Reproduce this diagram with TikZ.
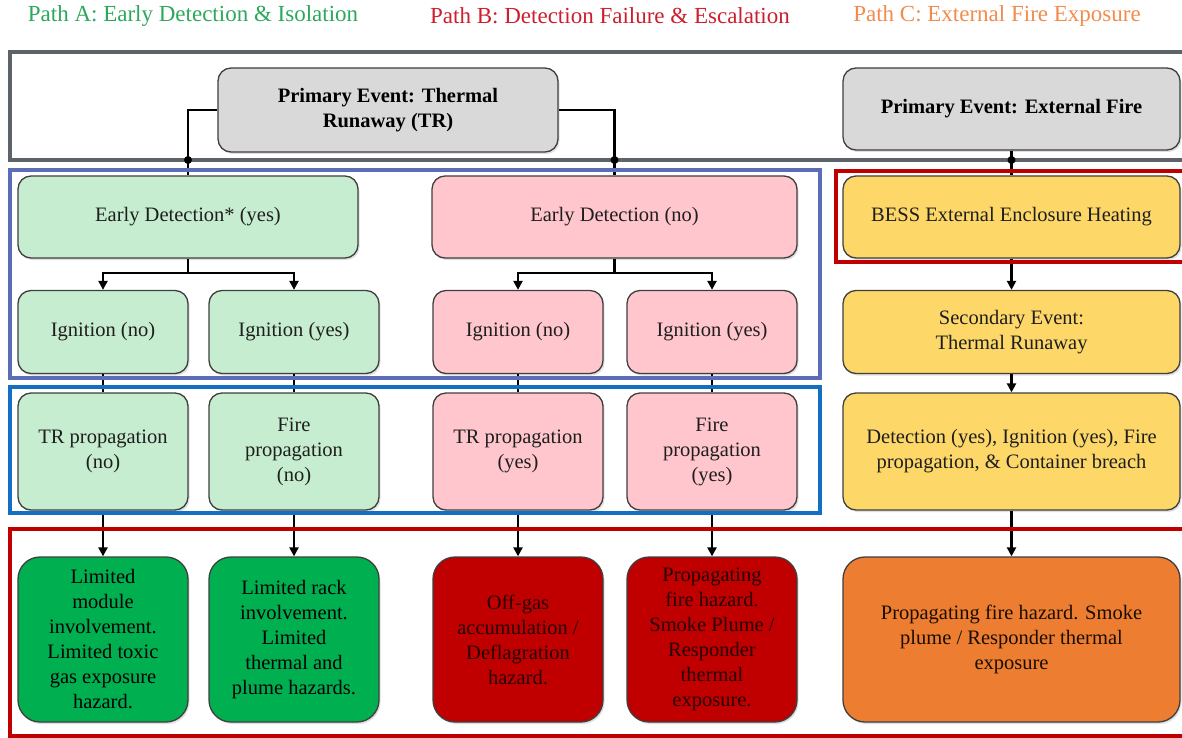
\documentclass[tikz,border=0pt]{standalone}
\usepackage{fontspec}
\setmainfont{LiberationSerif}[Extension=.ttf, UprightFont=*-Regular, BoldFont=*-Bold, ItalicFont=*-Italic, BoldItalicFont=*-BoldItalic]
\usetikzlibrary{arrows.meta,shadows}

\definecolor{framegray}{HTML}{5E6369}
\definecolor{framepurple}{HTML}{5B6DB8}
\definecolor{frameblue}{HTML}{136FC4}
\definecolor{framered}{HTML}{C00000}
\definecolor{boxline}{HTML}{3F3F3F}
\definecolor{txt}{HTML}{1E1E1E}
\definecolor{fillgray}{HTML}{D9D9D9}
\definecolor{fillmint}{HTML}{C6EDCF}
\definecolor{fillpink}{HTML}{FFC6CD}
\definecolor{fillyellow}{HTML}{FDD868}
\definecolor{fillgreen}{HTML}{00B050}
\definecolor{fillred}{HTML}{C00000}
\definecolor{fillorange}{HTML}{ED7D31}
\definecolor{pathA}{HTML}{2BA85B}
\definecolor{pathB}{HTML}{CC1F2E}
\definecolor{pathC}{HTML}{F28B4C}

\begin{document}
\begin{tikzpicture}[x=1pt,y=-1pt,
  box/.style={draw=boxline, line width=1.3pt, rounded corners=13pt, align=center,
    inner sep=2pt, text=txt, font=\fontsize{20.5}{25}\selectfont,
    drop shadow={shadow xshift=1.5pt, shadow yshift=-2pt, opacity=0.25}},
  narrow/.style={minimum width=170pt},
  wide/.style={minimum width=337pt},
  short/.style={minimum height=83pt},
  mid/.style={minimum height=117pt},
  tall/.style={box, minimum height=165pt, rounded corners=22pt},
  header/.style={font=\fontsize{23}{27}\selectfont},
  conn/.style={line width=2.6pt, black},
  arr/.style={conn, -{Triangle[length=9pt,width=9pt]}},
  frame/.style={line width=4.5pt},
  joint/.style={fill=black}
]
\useasboundingbox (0,0) rectangle (1182,738);
\clip (0,0) rectangle (1182,738);

% path titles
\node[header, text=pathA] (tA) at (193,16) {Path A: Early Detection \& Isolation};
\node[header, text=pathB] (tB) at (610,16) {Path B: Detection Failure \& Escalation};
\node[header, text=pathC] (tC) at (997,16) {Path C: External Fire Exposure};

% primary events
\node[box, fill=fillgray, minimum width=340pt, minimum height=84pt, font=\fontsize{20.5}{25}\selectfont\bfseries, text=black]
  (tr) at (388,110) {Primary Event: Thermal\\Runaway (TR)};
\node[box, fill=fillgray, wide, minimum height=82pt, font=\fontsize{20.5}{25}\selectfont\bfseries, text=black]
  (ef) at (1011.5,109) {Primary Event: External Fire};

% detection level
\node[box, fill=fillmint, minimum width=340pt, minimum height=82pt] (edy) at (188,217) {Early Detection* (yes)};
\node[box, fill=fillpink, minimum width=365pt, minimum height=82pt] (edn) at (614.5,217) {Early Detection (no)};
\node[box, fill=fillyellow, wide, minimum height=82pt] (bess) at (1011.5,217) {BESS External Enclosure Heating};

% ignition level
\node[box, fill=fillmint, narrow, short] (ign1) at (103,332) {Ignition (no)};
\node[box, fill=fillmint, narrow, short] (ign2) at (294,332) {Ignition (yes)};
\node[box, fill=fillpink, narrow, short] (ign3) at (518,332) {Ignition (no)};
\node[box, fill=fillpink, narrow, short] (ign4) at (712,332) {Ignition (yes)};
\node[box, fill=fillyellow, wide, short] (sec) at (1011.5,332) {Secondary Event:\\Thermal Runaway};

% propagation level
\node[box, fill=fillmint, narrow, mid] (trp1) at (103,451.5) {TR propagation\\(no)};
\node[box, fill=fillmint, narrow, mid] (fp1) at (294,451.5) {Fire\\propagation\\(no)};
\node[box, fill=fillpink, narrow, mid] (trp2) at (518,451.5) {TR propagation\\(yes)};
\node[box, fill=fillpink, narrow, mid] (fp2) at (712,451.5) {Fire\\propagation\\(yes)};
\node[box, fill=fillyellow, wide, mid] (det) at (1011.5,451.5) {Detection (yes), Ignition (yes), Fire\\propagation, \& Container breach};

% outcomes
\node[tall, fill=fillgreen, narrow, text=black] (out1) at (103,639.5)
  {Limited\\module\\involvement.\\Limited toxic\\gas exposure\\hazard.};
\node[tall, fill=fillgreen, narrow, text=black] (out2) at (294,639.5)
  {Limited rack\\involvement.\\Limited\\thermal and\\plume hazards.};
\node[tall, fill=fillred, narrow, text=black!85!red] (out3) at (518,639.5)
  {Off-gas\\accumulation /\\Deflagration\\hazard.};
\node[tall, fill=fillred, narrow, text=black!85!red] (out4) at (712,639.5)
  {Propagating\\fire hazard.\\Smoke Plume /\\Responder\\thermal\\exposure.};
\node[tall, fill=fillorange, wide, text=black!90!orange] (out5) at (1011.5,639.5)
  {Propagating fire hazard. Smoke\\plume / Responder thermal\\exposure};

% junction points
\coordinate (gb) at (0,160);
\coordinate (ja) at (188,273);
\coordinate (jb) at (614.5,273);

% connectors
\draw[conn] (tr.west) -| (edy.north);
\draw[conn] (tr.east) -| (edn.north);
\draw[conn] (ef.south) -- (bess.north);

\draw[conn] (edy.south) -- (ja);
\draw[arr] (ja) -| (ign1.north);
\draw[arr] (ja) -| (ign2.north);
\draw[conn] (edn.south) -- (jb);
\draw[arr] (jb) -| (ign3.north);
\draw[arr] (jb) -| (ign4.north);

\draw[conn] (ign1.south) -- (trp1.north);
\draw[conn] (ign2.south) -- (fp1.north);
\draw[conn] (ign3.south) -- (trp2.north);
\draw[conn] (ign4.south) -- (fp2.north);

\draw[arr] (bess.south) -- (sec.north);
\draw[arr] (sec.south) -- (det.north);

\draw[arr] (trp1.south) -- (out1.north);
\draw[arr] (fp1.south) -- (out2.north);
\draw[arr] (trp2.south) -- (out3.north);
\draw[arr] (fp2.south) -- (out4.north);
\draw[arr] (det.south) -- (out5.north);

% grouping frames
\draw[frame, framegray] (10,52) rectangle (1200,160);
\draw[frame, framepurple] (10,170) rectangle (820,378);
\draw[frame, frameblue] (10,387) rectangle (820,513);
\draw[frame, framered, line width=4pt] (10,529) rectangle (1200,736);
\draw[frame, framered, line width=4pt] (836,171) rectangle (1200,262);

% joints on the top frame
\fill[joint] (edy.north |- gb) circle (4pt);
\fill[joint] (edn.north |- gb) circle (4pt);
\fill[joint] (ef.south |- gb) circle (4pt);
\end{tikzpicture}
\end{document}
